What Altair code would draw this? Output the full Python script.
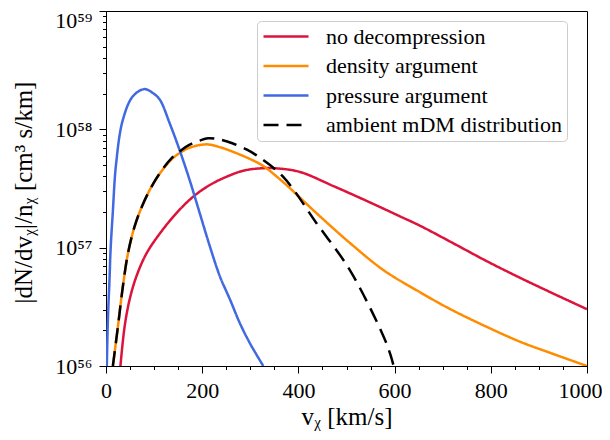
import altair as alt
import pandas as pd

# ---- data (v in km/s, value as log10) ----
series_names = ["no decompression", "density argument", "pressure argument", "ambient mDM distribution"]
series_colors = ["#DC143C", "#FF8C00", "#4169E1", "#000000"]

red_v = [30, 38.6, 49, 63, 84, 112, 146, 181, 216, 251, 285, 320, 355, 403, 473, 542, 611, 653, 723, 792, 861, 931, 1000]
red_log = [56.0, 56.33, 56.56, 56.755, 56.95, 57.12, 57.29, 57.43, 57.53, 57.60, 57.65, 57.67, 57.67, 57.64, 57.52,
           57.395, 57.265, 57.185, 57.035, 56.885, 56.745, 56.61, 56.48]

orange_v = [14.3, 24.7, 35, 45.6, 59.5, 77, 98, 118, 136, 155, 174, 209, 236, 264, 299, 327, 368, 438, 507, 577, 650,
            716, 792, 861, 931, 1000]
orange_log = [56.0, 56.33, 56.67, 56.95, 57.18, 57.37, 57.54, 57.66, 57.745, 57.805, 57.845, 57.873, 57.85, 57.81,
              57.75, 57.69, 57.555, 57.29, 57.04, 56.81, 56.63, 56.48, 56.33, 56.205, 56.1, 56.0]

blue_v = [1.7, 4, 7.3, 9.5, 14, 21, 35, 56, 80, 98, 112, 132.5, 153, 174, 195, 216, 237, 258, 278.5, 299.5, 327]
blue_log = [56.0, 56.4, 56.73, 56.98, 57.29, 57.71, 58.08, 58.28, 58.34, 58.305, 58.25, 58.05, 57.825, 57.57, 57.29,
            57.01, 56.755, 56.56, 56.36, 56.19, 56.0]

black_v = [14.3, 24.7, 35, 45.6, 59.5, 77, 98, 118, 136, 155, 174, 195, 212, 235, 264, 292, 313, 368, 438, 507, 577,
           591, 598]
black_log = [56.0, 56.33, 56.67, 56.95, 57.18, 57.37, 57.54, 57.665, 57.755, 57.82, 57.87, 57.905, 57.925, 57.915,
             57.88, 57.83, 57.78, 57.6, 57.205, 56.81, 56.25, 56.1, 56.0]

x_major = [0, 200, 400, 600, 800, 1000]
x_minor = [50, 100, 150, 250, 300, 350, 450, 500, 550, 650, 700, 750, 850, 900, 950]
y_major = [1e56, 1e57, 1e58, 1e59]
y_minor = [m * 10 ** e for e in (56, 57, 58) for m in range(2, 10)]

rows = []
for name, vs, ls in zip(series_names, [red_v, orange_v, blue_v, black_v], [red_log, orange_log, blue_log, black_log]):
    for v, l in zip(vs, ls):
        rows.append({"series": name, "v": v, "val": 10 ** l})
df = pd.DataFrame(rows)

FONT = "Liberation Serif"

legend = alt.Legend(
    title=None, orient="none", legendX=151, legendY=10,
    symbolType="stroke", symbolSize=2025, symbolStrokeWidth=2.5,
    labelFont=FONT, labelFontSize=22, labelColor="black", labelOffset=16,
    clipHeight=21, rowPadding=6.5, padding=5, fillColor="white", strokeColor="#cccccc",
    cornerRadius=4, labelLimit=400,
)

xs = alt.Scale(domain=[0, 1000], nice=False)
ys = alt.Scale(type="log", domain=[1e56, 1e59], nice=False)

ylabel = ("datum.value > 5e58 ? '10⁵⁹' : datum.value > 5e57 ? '10⁵⁸' : "
          "datum.value > 5e56 ? '10⁵⁷' : '10⁵⁶'")

lines = alt.Chart(df).mark_line(strokeWidth=2.5, clip=True, interpolate="catmull-rom").encode(
    x=alt.X("v:Q", scale=xs, axis=alt.Axis(
        orient="bottom", values=x_major, format="d", title="vᵪ [km/s]", tickSize=7, labelPadding=7,
        labelFont=FONT, labelFontSize=22, titleFont=FONT, titleFontSize=25, titleFontWeight="normal",
        titlePadding=3, grid=False, domainColor="black", tickColor="black", labelColor="black",
        titleColor="black", labelFlush=False,
        labelOffset={"condition": {"test": "datum.value > 900", "value": -7}, "value": 0})),
    y=alt.Y("val:Q", scale=ys, axis=alt.Axis(
        orient="left", values=y_major, labelExpr=ylabel, title="|dN/dvᵪ|/nᵪ [cm³ s/km]", tickSize=7,
        labelPadding=7, labelFont=FONT, labelFontSize=22, titleFont=FONT, titleFontSize=25,
        titleFontWeight="normal", titleX=-70, titleY=181, grid=False, domainColor="black",
        tickColor="black", labelColor="black", titleColor="black", labelFlush=False,
        labelOffset={"condition": {"test": "datum.value > 5e58", "value": 9}, "value": 0})),
    color=alt.Color("series:N", scale=alt.Scale(domain=series_names, range=series_colors), legend=legend),
    strokeDash=alt.StrokeDash("series:N", scale=alt.Scale(domain=series_names,
                                                           range=[[1, 0], [1, 0], [1, 0], [15, 8]]),
                              legend=legend),
)

minor = alt.Chart(df).mark_point(opacity=0).encode(
    x=alt.X("v:Q", scale=xs, axis=alt.Axis(
        orient="bottom", values=x_minor, labels=False, title=None, tickSize=3.5, grid=False,
        domain=False, tickColor="black")),
    y=alt.Y("val:Q", scale=ys, axis=alt.Axis(
        orient="left", values=y_minor, labels=False, title=None, tickSize=3.5, grid=False,
        domain=False, tickColor="black")),
)

chart = alt.layer(lines, minor).resolve_axis(x="independent", y="independent").properties(
    width=481, height=355,
    autosize=alt.AutoSizeParams(type="none"),
    padding={"left": 98, "top": 3, "right": 15, "bottom": 66},
).configure_view(stroke="black", strokeWidth=1)

chart.save("out.html", embed_options={"renderer": "svg", "actions": False})
